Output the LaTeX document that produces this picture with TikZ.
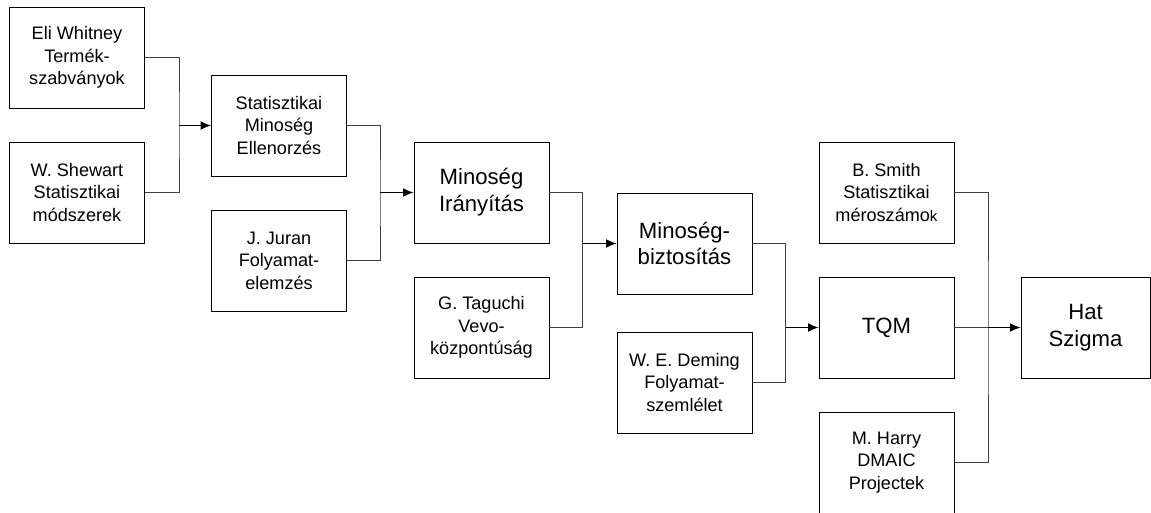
\documentclass[tikz,border=0pt]{standalone}
\usepackage{fontspec}
\setmainfont{Liberation Sans}
\usepackage{tikz}
\usetikzlibrary{arrows.meta}

\begin{document}
\begin{tikzpicture}[
    box/.style={rectangle,draw=black,line width=0.5pt,minimum width=2.7cm,minimum height=2.02cm,inner sep=0pt,align=center,
        font=\fontsize{10.3pt}{12.8pt}\selectfont},
    bigbox/.style={box,font=\fontsize{12.6pt}{15.3pt}\selectfont},
    link/.style={draw=black!75,line width=0.55pt},
    into/.style={draw=black,line width=0.65pt,-{Latex[length=6pt,width=5pt]}}]
            \useasboundingbox (0,0) rectangle (23.02,-10.24);

            % Place the first columns
            \node[box] (ew) at (1.54,-1.15) {Eli Whitney\\Termék-\\szabványok};
            \node[box] (ws) at (1.54,-3.85) {W. Shewart\\Statisztikai\\módszerek};
            \node[box] (sme) at (5.58,-2.51) {Statisztikai\\Minoség\\Ellenorzés};
            \node[box] (jj) at (5.58,-5.21) {J. Juran\\Folyamat-\\elemzés};
            \node[bigbox] (mi) at (9.63,-3.85) {Minoség\\Irányítás};
            \node[box] (gt) at (9.63,-6.55) {G. Taguchi\\Vevo-\\központúság};
            \node[bigbox] (mb) at (13.69,-4.87) {Minoség-\\biztosítás};
            \node[box] (wed) at (13.69,-7.65) {W. E. Deming\\Folyamat-\\szemlélet};

            % Place the last columns
            \node[box] (bs) at (17.73,-3.85) {B. Smith\\Statisztikai\\méroszámo{\fontsize{8.6pt}{10pt}\selectfont k}};
            \node[bigbox] (tqm) at (17.73,-6.55) {TQM};
            \node[box] (mh) at (17.73,-9.25) {M. Harry\\DMAIC\\Projectek};
            \node[bigbox,minimum width=2.58cm] (hs) at (21.71,-6.55) {Hat\\Szigma};

            % The joints
            \coordinate (j1) at (3.58,-2.51);
            \coordinate (j2) at (7.6,-3.85);
            \coordinate (j3) at (11.65,-4.87);
            \coordinate (j4) at (15.71,-6.55);
            \coordinate (j5) at (19.76,-6.55);

            % The lines!
            \draw[link] (ew.east) -| (j1) |- (ws.east);
            \draw[link] (sme.east) -| (j2) |- (jj.east);
            \draw[link] (mi.east) -| (j3) |- (gt.east);
            \draw[link] (mb.east) -| (j4) |- (wed.east);
            \draw[link] (bs.east) -| (j5) |- (mh.east);
            \draw[link] (tqm.east) -- (j5);
            \draw[into] (j1) -- (sme);
            \draw[into] (j2) -- (mi);
            \draw[into] (j3) -- (mb);
            \draw[into] (j4) -- (tqm);
            \draw[into] (j5) -- (hs);
        \end{tikzpicture}
\end{document}
